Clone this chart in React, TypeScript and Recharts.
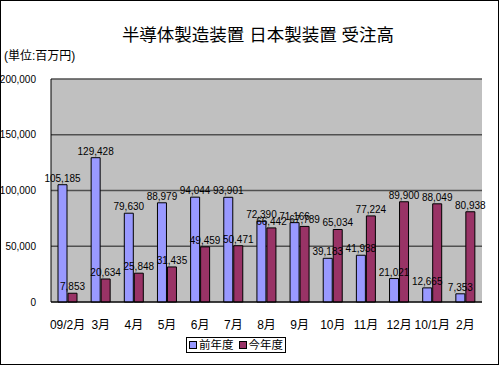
import React from 'react';
import { BarChart, Bar, XAxis, YAxis, CartesianGrid, LabelList } from 'recharts';

const months = ['09/2月', '3月', '4月', '5月', '6月', '7月', '8月', '9月', '10月', '11月', '12月', '10/1月', '2月'];
const prevYear = [105185, 129428, 79630, 88979, 94044, 93901, 72390, 71166, 39183, 41938, 21021, 12665, 7353];
const thisYear = [7853, 20634, 25848, 31435, 49459, 50471, 66442, 67789, 65034, 77224, 89900, 88049, 80938];
const yTicks = [0, 50000, 100000, 150000, 200000];

const FONT = "'Liberation Sans', 'Noto Sans CJK JP', sans-serif";
const PREV_COLOR = '#9999ff';
const THIS_COLOR = '#993366';

const data = months.map((m, i) => ({ month: m, prev: prevYear[i], cur: thisYear[i] }));

const fmt = (v: number) => v.toLocaleString('en-US');

const numStyle = { fontSize: 10, fill: '#000', fontFamily: FONT };

const LegendBox = () => (
  <div
    style={{
      position: 'absolute',
      left: 186,
      top: 337,
      width: 100,
      height: 16,
      boxSizing: 'border-box',
      border: '1px solid #000',
      background: '#fff',
      display: 'flex',
      alignItems: 'center',
      justifyContent: 'center',
      gap: 5,
      fontFamily: FONT,
      fontSize: 11.5,
      lineHeight: '14px',
      whiteSpace: 'nowrap',
    }}
  >
    {[
      { name: '前年度', color: PREV_COLOR },
      { name: '今年度', color: THIS_COLOR },
    ].map((item) => (
      <span key={item.name} style={{ display: 'flex', alignItems: 'center', gap: 2 }}>
        <span
          style={{
            width: 6,
            height: 6,
            background: item.color,
            border: '1px solid #000',
            display: 'inline-block',
          }}
        />
        {item.name}
      </span>
    ))}
  </div>
);

export default function App() {
  return (
    <div style={{ position: 'relative', width: 500, height: 366, background: '#fff' }}>
      <style>{'body{margin:0}'}</style>
      <div
        style={{
          position: 'absolute',
          left: 0,
          top: 0,
          width: 499,
          height: 365,
          boxSizing: 'border-box',
          border: '1px solid #000',
        }}
      />
      <div
        style={{
          position: 'absolute',
          left: 0,
          width: 516,
          top: 21,
          textAlign: 'center',
          fontFamily: FONT,
          fontSize: 17.5,
          whiteSpace: 'nowrap',
        }}
      >
        半導体製造装置 日本製装置 受注高
      </div>
      <div style={{ position: 'absolute', left: 4, top: 46, fontFamily: FONT, fontSize: 12 }}>(単位:百万円)</div>
      <div style={{ position: 'absolute', left: 0, top: 0 }}>
        <BarChart
          width={500}
          height={366}
          data={data}
          margin={{ top: 79, right: 18, left: 0, bottom: 34 }}
          barSize={9}
          barGap={1}
        >
          <CartesianGrid vertical={false} fill="#c0c0c0" stroke="#505050" strokeWidth={1.5} />
          <XAxis
            dataKey="month"
            height={30}
            tickLine={false}
            tickMargin={12}
            axisLine={{ stroke: '#000' }}
            tick={{ fontSize: 12, fill: '#000', fontFamily: FONT }}
            interval={0}
          />
          <YAxis
            width={51}
            domain={[0, 200000]}
            ticks={yTicks}
            tickFormatter={fmt}
            tickLine={false}
            tickMargin={9}
            axisLine={{ stroke: '#000' }}
            tick={numStyle}
          />
          <Bar dataKey="prev" fill={PREV_COLOR} stroke="#000" strokeWidth={1} isAnimationActive={false}>
            <LabelList dataKey="prev" position="top" offset={3} formatter={fmt} style={numStyle} />
          </Bar>
          <Bar dataKey="cur" fill={THIS_COLOR} stroke="#000" strokeWidth={1} isAnimationActive={false}>
            <LabelList dataKey="cur" position="top" offset={3} formatter={fmt} style={numStyle} />
          </Bar>
        </BarChart>
      </div>
      <LegendBox />
    </div>
  );
}
